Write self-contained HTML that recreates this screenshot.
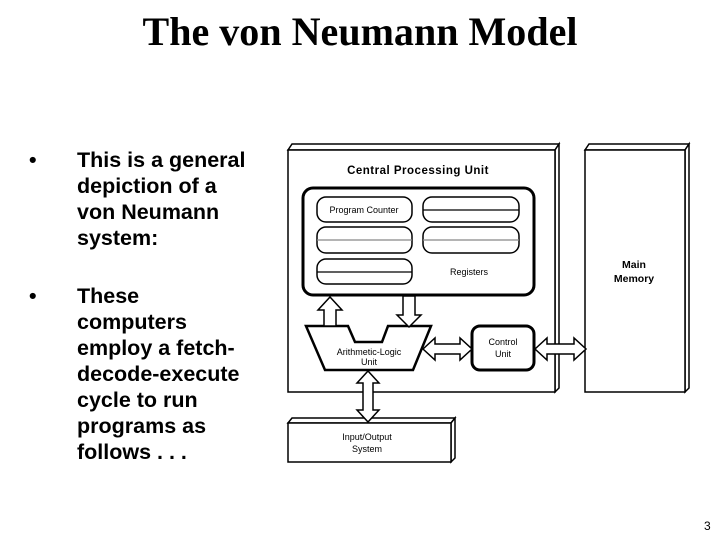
<!DOCTYPE html>
<html><head><style>
body{margin:0;width:720px;height:540px;background:#fff;overflow:hidden;position:relative}
</style></head><body>
<svg width="720" height="540" xmlns="http://www.w3.org/2000/svg" style="position:absolute;left:0;top:0">
<text x="360" y="45" text-anchor="middle" font-family="Liberation Serif, serif" font-weight="bold" font-size="40" textLength="435">The von Neumann Model</text>
<g font-family="Liberation Sans, sans-serif" font-size="21.5" font-weight="bold" fill="#000">
<text x="29" y="167">•</text>
<text x="77" y="167">This is a general</text>
<text x="77" y="193">depiction of a</text>
<text x="77" y="219">von Neumann</text>
<text x="77" y="245">system:</text>
<text x="29" y="303">•</text>
<text x="77" y="303">These</text>
<text x="77" y="329">computers</text>
<text x="77" y="355">employ a fetch-</text>
<text x="77" y="381">decode-execute</text>
<text x="77" y="407">cycle to run</text>
<text x="77" y="433">programs as</text>
<text x="77" y="459">follows . . .</text>
</g>
<text x="704" y="530" font-family="Liberation Sans, sans-serif" font-size="12">3</text>
<g fill="#fff" stroke="#000" stroke-width="1.5">
<polygon points="288,150 292,144 559,144 555,150"/>
<polygon points="555,150 559,144 559,388 555,392"/>
<rect x="288" y="150" width="267" height="242"/>
<polygon points="585,150 589,144 689,144 685,150"/>
<polygon points="685,150 689,144 689,388 685,392"/>
<rect x="585" y="150" width="100" height="242"/>
<polygon points="288,423 292,418 455,418 451,423"/>
<polygon points="451,423 455,418 455,458 451,462"/>
<rect x="288" y="423" width="163" height="39"/>
<rect x="303" y="188" width="231" height="107" rx="10" stroke-width="3"/>
<rect x="317" y="197" width="95" height="25" rx="9"/>
<rect x="423" y="197" width="96" height="25" rx="9"/>
<rect x="317" y="227" width="95" height="26" rx="9"/>
<rect x="423" y="227" width="96" height="26" rx="9"/>
<rect x="317" y="259" width="95" height="25" rx="9"/>
<polygon points="306,326 348,326 355,342 382,342 388,326 431,326 413,370 325,370" stroke-width="2.5"/>
<rect x="472" y="326" width="62" height="44" rx="8" stroke-width="3"/>
<polygon points="324,326 324,310 318,310 330,297 342,310 336,310 336,326"/>
<polygon points="403,296 415,296 415,315 421,315 409,327 397,315 403,315"/>
<polygon points="423,349 435,338 435,344 460,344 460,338 472,349 460,360 460,354 435,354 435,360"/>
<polygon points="535,349 547,338 547,344 574,344 574,338 586,349 574,360 574,354 547,354 547,360"/>
<polygon points="368,371 379,383 373,383 373,410 379,410 368,422 357,410 363,410 363,383 357,383"/>
</g>
<g stroke="#000" stroke-width="1.2">
<line x1="423" y1="210" x2="519" y2="210"/>
<line x1="317" y1="240" x2="412" y2="240" stroke="#888"/>
<line x1="423" y1="240" x2="519" y2="240" stroke="#888"/>
<line x1="317" y1="272" x2="412" y2="272"/>
</g>
<g font-family="Liberation Sans, sans-serif" fill="#000" text-anchor="middle">
<text x="418" y="174" font-size="11.5" font-weight="bold" letter-spacing="0.5">Central Processing Unit</text>
<text x="364" y="213" font-size="9">Program Counter</text>
<text x="469" y="275" font-size="9">Registers</text>
<text x="369" y="355" font-size="9">Arithmetic-Logic</text>
<text x="369" y="365" font-size="9">Unit</text>
<text x="503" y="345" font-size="9">Control</text>
<text x="503" y="357" font-size="9">Unit</text>
<text x="634" y="268" font-size="10.5" font-weight="bold">Main</text>
<text x="634" y="282" font-size="10.5" font-weight="bold">Memory</text>
<text x="367" y="440" font-size="9">Input/Output</text>
<text x="367" y="452" font-size="9">System</text>
</g>
</svg>
</body></html>
